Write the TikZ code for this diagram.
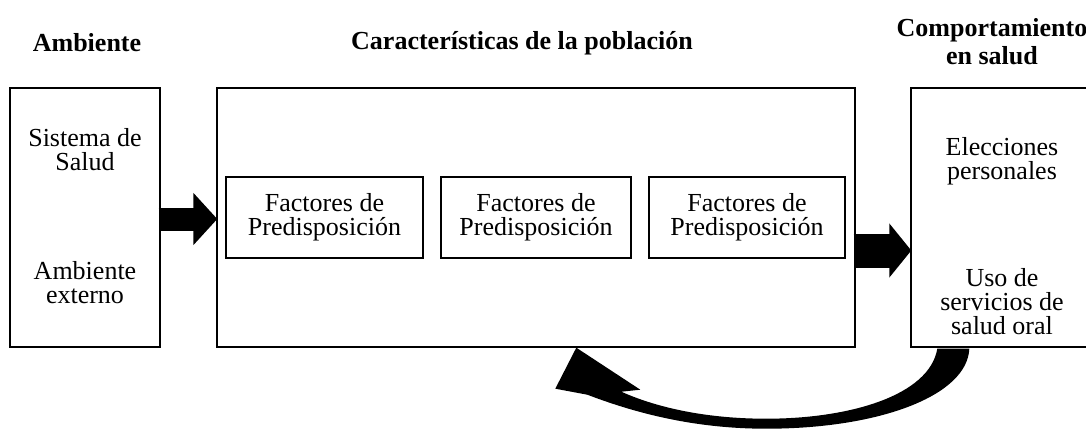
\documentclass[tikz,border=0pt]{standalone}
\usepackage{fontspec}
\setmainfont{Liberation Serif}
\usepackage{tikz}
\usetikzlibrary{calc,arrows.meta}

\begin{document}
\begin{tikzpicture}[x=0.5pt, y=-0.5pt, line width=0.7pt,
  box/.style={draw, minimum height=129.5pt, inner sep=0pt},
  inbox/.style={draw, minimum height=40.5pt, inner sep=0pt, align=center, font=\fontsize{13}{12}\selectfont},
  txt/.style={align=center, font=\fontsize{13}{12}\selectfont},
  head/.style={align=center, font=\fontsize{13}{14}\selectfont\bfseries}]
\useasboundingbox (0,0) rectangle (1086,428);
% cajas grandes
\node[box, minimum width=75pt] (amb) at (85,217.5) {};
\node[box, minimum width=319pt] (pob) at (536,217.5) {};
\node[box, minimum width=94.5pt] (comp) at (1005.5,217.5) {};
% factores
\node[inbox, minimum width=98.5pt] (fac1) at (324.5,217.5) {Factores de\\Predisposición};
\node[inbox, minimum width=95pt] (fac2) at (536,217.5) {Factores de\\Predisposición};
\node[inbox, minimum width=98pt] (fac3) at (747,217.5) {Factores de\\Predisposición};
% textos
\node[txt] (sis) at (85,150) {Sistema de\\Salud};
\node[txt] (ext) at (85,283) {Ambiente\\externo};
\node[txt] (ele) at (1002,161) {Elecciones\\personales};
\node[txt] (uso) at (1002,302) {Uso de\\servicios de\\salud oral};
% titulos
\node[head] (t1) at (87,43) {Ambiente};
\node[head] (t2) at (522,43) {Características de la población};
\node[head] (t3) at (992,42) {Comportamiento\\en salud};
% flechas
\draw[line width=11.5pt, -{Triangle[width=25.5pt, length=12pt]}] ($(amb.east)+(-2,1.5)$) -- ($(pob.west)+(1,1.5)$);
\draw[line width=17pt, -{Triangle[width=26.5pt, length=11pt]}] ($(pob.east)+(-2,33)$) -- ($(comp.west)+(1,33)$);
\coordinate (tip) at ($(pob.south west)+(360,0)$);
\begin{scope}[shift={(tip)}]
\fill (361,1) -- (393,1) .. controls (391,48) and (303,81) .. (190,81)
  .. controls (113,81) and (53,63) .. (11,47) -- (-21,41) -- (0,0) -- (64,42) -- (45,44)
  .. controls (83,61) and (133,71) .. (190,71)
  .. controls (273,71) and (353,48) .. (361,1) -- cycle;
\end{scope}
\end{tikzpicture}
\end{document}
